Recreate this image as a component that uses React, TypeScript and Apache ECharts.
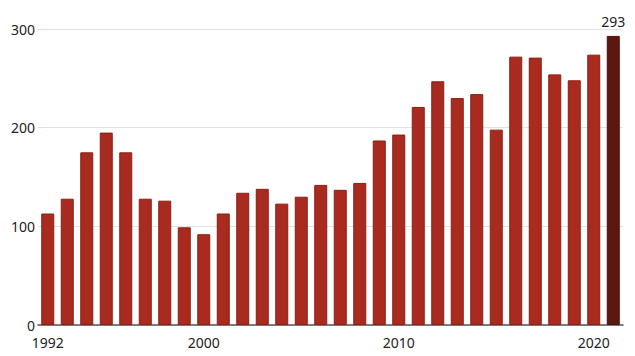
import React, { useEffect, useRef } from "react";
import * as echarts from "echarts";

const years: string[] = [
  "1992","1993","1994","1995","1996","1997","1998","1999","2000","2001",
  "2002","2003","2004","2005","2006","2007","2008","2009","2010","2011",
  "2012","2013","2014","2015","2016","2017","2018","2019","2020","2021",
];
const values: number[] = [
  113, 128, 175, 195, 175, 128, 126, 99, 92, 113,
  134, 138, 123, 130, 142, 137, 144, 187, 193, 221,
  247, 230, 234, 198, 272, 271, 254, 248, 274, 293,
];
const labeledYears: string[] = ["1992", "2000", "2010", "2020"];
const yTicks: number[] = [0, 100, 200, 300];

export default function App() {
  const ref = useRef<HTMLDivElement>(null);
  useEffect(() => {
    if (!ref.current) return;
    const chart = echarts.init(ref.current, undefined, { renderer: "svg" });
    const last = values.length - 1;
    chart.setOption({
      animation: false,
      grid: { left: 38, right: 12, top: 29, bottom: 31, containLabel: false },
      xAxis: {
        type: "category",
        data: years,
        axisLine: { lineStyle: { color: "#555", width: 1.5 } },
        axisTick: {
          alignWithLabel: true,
          length: 4,
          lineStyle: { color: "#999" },
          interval: (i: number, v: string) => labeledYears.includes(v),
        },
        axisLabel: {
          interval: (i: number, v: string) => labeledYears.includes(v),
          color: "#222",
          fontSize: 14,
          fontFamily: "Noto Sans",
          margin: 10,
        },
      },
      yAxis: {
        type: "value",
        min: yTicks[0],
        max: yTicks[yTicks.length - 1],
        interval: 100,
        axisLine: { show: false },
        axisTick: { show: false },
        splitLine: { lineStyle: { color: "#e2e2e2", width: 1 } },
        axisLabel: {
          color: "#222",
          fontSize: 14,
          lineHeight: 14,
          fontFamily: "Noto Sans",
          margin: 3,
        },
      },
      series: [
        {
          type: "bar",
          barWidth: 13,
          data: values.map((v, i) =>
            i === last
              ? {
                  value: v,
                  itemStyle: { color: "#5c170f", borderColor: "#4a120b" },
                  label: {
                    show: true,
                    position: "top",
                    distance: 7,
                    color: "#222",
                    fontSize: 14,
                    fontFamily: "Noto Sans",
                    backgroundColor: "#fff",
                    padding: [0, 8, 0, 8],
                  },
                }
              : v
          ),
          itemStyle: { color: "#a92b1f", borderColor: "#8a1f15", borderWidth: 1 },
        },
      ],
    });
    return () => chart.dispose();
  }, []);
  return <div ref={ref} style={{ width: 635, height: 356, margin: -8 }} />;
}
